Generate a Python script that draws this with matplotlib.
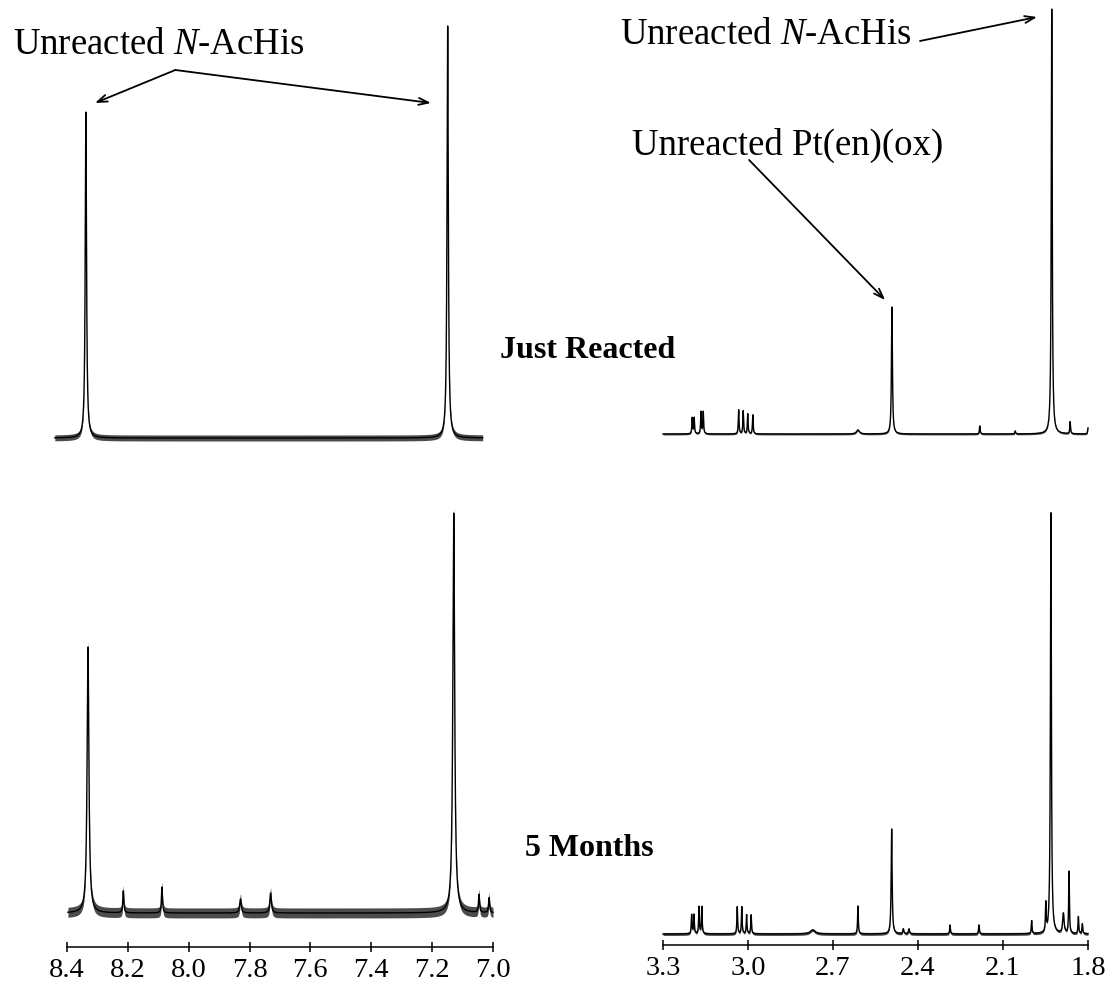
# coding = utf-8
import numpy as np
from matplotlib import pyplot as plt

plt.rcParams['font.family'] = ['Liberation Serif', 'DejaVu Serif']
plt.rcParams['mathtext.fontset'] = 'custom'
plt.rcParams['mathtext.rm'] = 'Liberation Serif'
plt.rcParams['mathtext.it'] = 'Liberation Serif:italic'

# 峰位(ppm)、峰高、半峰宽 —— 从原图读出
# 左上: Just Reacted, 8.4-7.0 ppm
tl_shift = [8.338, 7.149]
tl_height = [326, 412]
tl_width = [0.0025, 0.0025]
tl_range = (8.44, 7.034)
tl_noise = 3

# 左下: 5 Months
bl_shift = [8.331, 7.129, 8.215, 8.088, 7.83, 7.731, 7.046, 7.013]
bl_height = [266, 400, 22, 26, 14, 20, 18, 15]
bl_width = [0.0035, 0.0035, 0.002, 0.002, 0.003, 0.003, 0.002, 0.002]
bl_range = (8.397, 7.0)
bl_noise = 5

# 右上: Just Reacted, 3.3-1.8 ppm
tr_shift = [3.197, 3.190, 3.166, 3.158, 3.033, 3.017, 3.001, 2.983,
            2.612, 2.492, 2.182, 2.057, 1.928, 1.863, 1.80]
tr_height = [16, 16, 22, 22, 24, 23, 20, 19, 4, 127, 8, 3, 425, 12, 6]
tr_width = [0.0015] * 8 + [0.006, 0.002, 0.0015, 0.0015, 0.002, 0.0015, 0.0015]
tr_range = (3.3, 1.80)
tr_noise = 1

# 右下: 5 Months
br_shift = [3.199, 3.191, 3.173, 3.163, 3.038, 3.022, 3.005, 2.989,
            2.772, 2.612, 2.493, 2.452, 2.432, 2.287, 2.185, 1.999,
            1.949, 1.931, 1.887, 1.867, 1.834, 1.82]
br_height = [19, 19, 27, 27, 27, 27, 19, 19, 4, 28, 105, 5, 5, 9, 9, 13,
             28, 421, 20, 62, 17, 10]
br_width = [0.0015] * 8 + [0.01, 0.0015, 0.002, 0.002, 0.002, 0.0015, 0.0015,
                           0.0015, 0.0015, 0.002, 0.003, 0.0015, 0.0015, 0.0015]
br_range = (3.3, 1.80)
br_noise = 1.5

left_ticks = [8.4, 8.2, 8.0, 7.8, 7.6, 7.4, 7.2, 7.0]
right_ticks = [3.3, 3.0, 2.7, 2.4, 2.1, 1.8]

W, H = 1108, 982


def spectrum(x, shifts, heights, widths):
    y = np.zeros_like(x)
    for s, h, w in zip(shifts, heights, widths):
        y += h / (1 + ((x - s) / w) ** 2)
    return y


def make_ax(x0, x1, ytop, ybot):
    return fig.add_axes([x0 / W, 1 - ybot / H, (x1 - x0) / W, (ybot - ytop) / H])


def draw(ax, rng, shifts, heights, widths, noise, n):
    x = np.linspace(rng[0], rng[1], n)
    y = spectrum(x, shifts, heights, widths)
    ax.fill_between(x, y - noise, y + noise, color='k', alpha=0.7, lw=0, clip_on=False)
    ax.plot(x, y, color='k', lw=1.0, clip_on=False)


fig = plt.figure(figsize=(W / 100, H / 100), dpi=100)

ax_tl = make_ax(67, 493, 0, 460)
ax_bl = make_ax(67, 493, 480, 947)
ax_tr = make_ax(663, 1088, 0, 460)
ax_br = make_ax(663, 1088, 480, 945)

draw(ax_tl, tl_range, tl_shift, tl_height, tl_width, tl_noise, 10000)
draw(ax_bl, bl_range, bl_shift, bl_height, bl_width, bl_noise, 10000)
draw(ax_tr, tr_range, tr_shift, tr_height, tr_width, tr_noise, 20000)
draw(ax_br, br_range, br_shift, br_height, br_width, br_noise, 20000)

ax_tl.set_ylim(-22, 438)
ax_bl.set_ylim(-34, 433)
ax_tr.set_ylim(-26, 434)
ax_br.set_ylim(-11, 454)

for ax in [ax_tl, ax_bl]:
    ax.set_xlim(8.4, 7.0)
for ax in [ax_tr, ax_br]:
    ax.set_xlim(3.3, 1.8)

for ax in [ax_tl, ax_bl, ax_tr, ax_br]:
    ax.patch.set_visible(False)
    for side in ['top', 'left', 'right']:
        ax.spines[side].set_visible(False)
    ax.set_yticks([])

for ax in [ax_tl, ax_tr]:
    ax.spines['bottom'].set_visible(False)
    ax.set_xticks([])

for ax, ticks in [(ax_bl, left_ticks), (ax_br, right_ticks)]:
    ax.spines['bottom'].set_linewidth(1.1)
    ax.set_xticks(ticks)
    ax.set_xticklabels(['%.1f' % t for t in ticks])
    ax.tick_params(axis='x', direction='inout', length=7.5, width=1.1,
                   labelsize=20.5, pad=4)

# 标注
arrow = dict(arrowstyle='->,head_length=0.7,head_width=0.25', lw=1.3,
             color='k', shrinkA=0, shrinkB=0)
fig.text(13 / W, 1 - 45 / H, 'Unreacted $N$-AcHis', fontsize=26.5,
         ha='left', va='center')
ax_tl.annotate('', xy=(8.308, 335), xytext=(8.044, 368), arrowprops=arrow,
               annotation_clip=False)
ax_tl.annotate('', xy=(7.204, 335), xytext=(8.044, 368), arrowprops=arrow,
               annotation_clip=False)

fig.text(620 / W, 1 - 35 / H, 'Unreacted $N$-AcHis', fontsize=26.5,
         ha='left', va='center')
ax_tr.annotate('', xy=(1.980, 417), xytext=(2.393, 393), arrowprops=arrow,
               annotation_clip=False)

fig.text(632 / W, 1 - 145 / H, 'Unreacted Pt(en)(ox)', fontsize=26.5,
         ha='left', va='center')
ax_tr.annotate('', xy=(2.516, 134), xytext=(2.996, 274), arrowprops=arrow,
               annotation_clip=False)

fig.text(500 / W, 1 - 351 / H, 'Just Reacted', fontsize=23, fontweight='bold',
         ha='left', va='center')
fig.text(525 / W, 1 - 848 / H, '5 Months', fontsize=23, fontweight='bold',
         ha='left', va='center')

plt.savefig('out.png', dpi=100)
